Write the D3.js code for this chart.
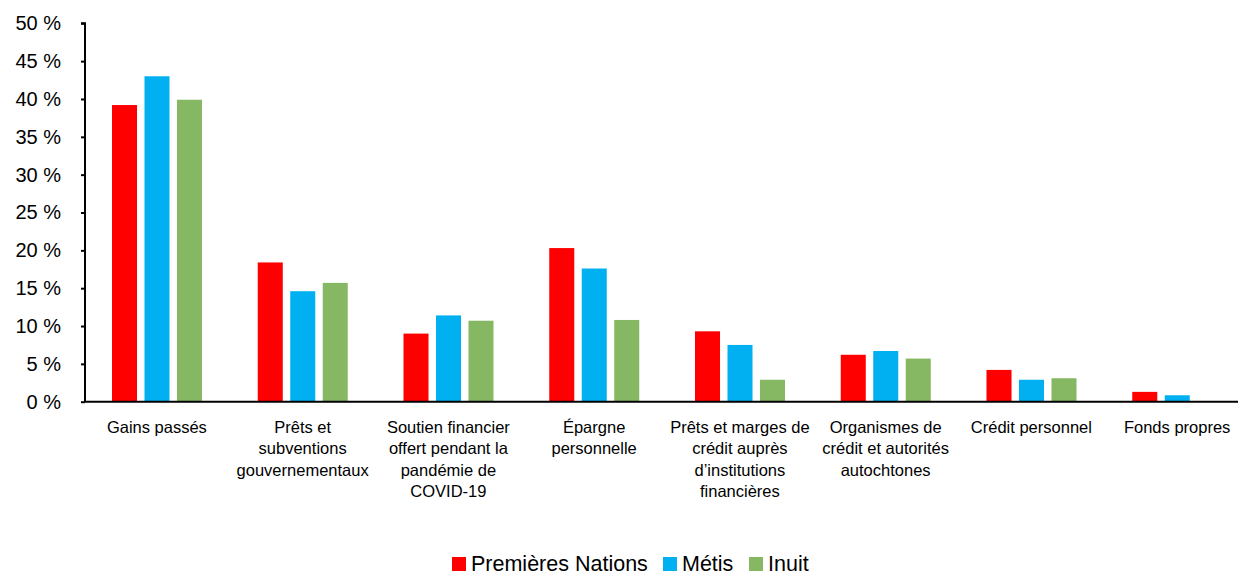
<!DOCTYPE html>
<meta charset="utf-8">
<script src="https://d3js.org/d3.v7.min.js"></script>
<style>
  body { margin: 0; background: #fff; }
  text { font-family: "Liberation Sans", Arial, sans-serif; fill: #000; }
</style>
<div id="chart"></div>
<script>
// categories (line breaks as in the original labels)
const categories = [
  "Gains passés",
  "Prêts et\nsubventions\ngouvernementaux",
  "Soutien financier\noffert pendant la\npandémie de\nCOVID-19",
  "Épargne\npersonnelle",
  "Prêts et marges de\ncrédit auprès\nd’institutions\nfinancières",
  "Organismes de\ncrédit et autorités\nautochtones",
  "Crédit personnel",
  "Fonds propres"
];
const series = ["Premières Nations", "Métis", "Inuit"];
const colors = ["#ff0000", "#00b0f0", "#86b864"];

// values in %
const premieresNations = [39.2, 18.4, 9.0, 20.3, 9.3, 6.2, 4.2, 1.3];
const metis = [43.0, 14.6, 11.4, 17.6, 7.5, 6.7, 2.9, 0.85];
const inuit = [39.9, 15.7, 10.7, 10.8, 2.9, 5.7, 3.1, 0];
const yTicks = [0, 5, 10, 15, 20, 25, 30, 35, 40, 45, 50];

const values = [premieresNations, metis, inuit];

const W = 1238, H = 576;
const svg = d3.select("#chart").append("svg")
    .attr("width", W)
    .attr("height", H);

const x = d3.scaleBand()
    .domain(categories)
    .range([84, 1250]);

const xSub = d3.scaleBand()
    .domain(series)
    .range([28, 118])
    .paddingInner(0.23);

const y = d3.scaleLinear()
    .domain([0, 50])
    .range([401.7, 23.3]);

// bars
series.forEach((s, i) => {
  svg.append("g")
    .selectAll("rect")
    .data(categories.map((c, j) => ({c: c, v: values[i][j]})))
    .join("rect")
      .attr("x", d => x(d.c) + xSub(s))
      .attr("y", d => y(d.v))
      .attr("width", xSub.bandwidth())
      .attr("height", d => y(0) - y(d.v))
      .attr("fill", colors[i]);
});

// y axis
const yAxis = svg.append("g")
    .attr("transform", "translate(85,0)")
    .call(d3.axisLeft(y).tickValues(yTicks).tickSize(4).tickPadding(20)
      .tickFormat(d => d + " %"));
yAxis.select(".domain").attr("stroke", "#000").attr("stroke-width", 2)
    .attr("d", `M-4,${y(50)}H0V${y(0)}`);
yAxis.selectAll(".tick line").attr("stroke", "#000").attr("stroke-width", 2);
yAxis.selectAll(".tick text").attr("font-size", 20)
    .style("font-family", "'Liberation Sans', Arial, sans-serif").attr("fill", "#000");

// x axis line
svg.append("line")
    .attr("x1", 84).attr("x2", 1250)
    .attr("y1", y(0)).attr("y2", y(0))
    .attr("stroke", "#000").attr("stroke-width", 2);

// category labels
const lab = svg.append("g").selectAll("text")
    .data(categories)
    .join("text")
      .attr("text-anchor", "middle")
      .attr("font-size", 16.5)
      .attr("transform", d => `translate(${x(d) + x.bandwidth() / 2},433)`);
lab.selectAll("tspan")
    .data(d => d.split("\n"))
    .join("tspan")
      .attr("x", 0)
      .attr("dy", (d, i) => i === 0 ? 0 : 21.3)
      .text(d => d);

// legend
const legendX = [452, 663, 749];
const leg = svg.append("g").selectAll("g")
    .data(series)
    .join("g")
      .attr("transform", (d, i) => `translate(${legendX[i]},557)`);
leg.append("rect")
    .attr("width", 14).attr("height", 14)
    .attr("fill", (d, i) => colors[i]);
leg.append("text")
    .attr("x", 19).attr("y", 14)
    .attr("font-size", 21.5)
    .text(d => d);
</script>
